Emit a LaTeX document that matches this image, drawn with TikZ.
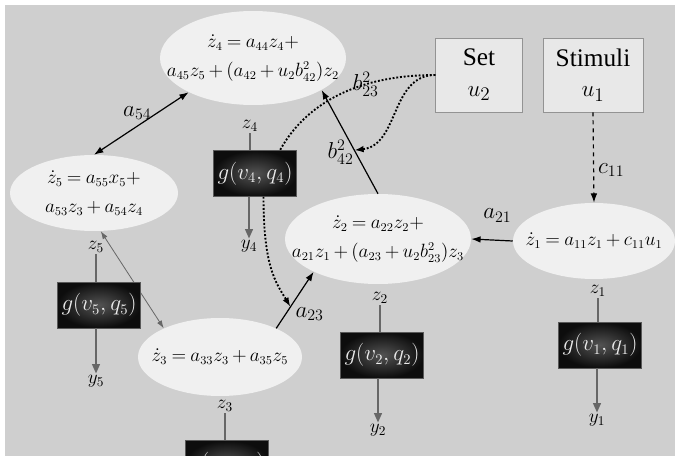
\documentclass[tikz,border=0pt]{standalone}
\usepackage{fontspec}
\setmainfont{Liberation Serif}
\usetikzlibrary{arrows.meta, positioning, shapes.geometric}
\definecolor{bgGray}{HTML}{CFCFCF}
\definecolor{eFill}{HTML}{F0F0F0}
\definecolor{boxFill}{HTML}{E8E8E8}
\definecolor{lnGray}{HTML}{676767}
\medmuskip=3mu plus 2mu minus 3mu
\thickmuskip=4mu plus 3mu

\begin{document}
\begin{tikzpicture}[x=0.75pt, y=-0.75pt,
    eq/.style={ellipse, fill=eFill, inner sep=0pt},
    eqtext/.style={align=center, inner sep=0pt, font=\fontsize{13.5}{22}\selectfont},
    inbox/.style={draw=gray!85, fill=boxFill, minimum height=55.5pt, align=center,
      inner sep=0pt, font=\fontsize{19}{23}\selectfont},
    gbox/.style={draw=gray!70!black, line width=0.6pt, fill=black,
      path picture={\shade[inner color=gray!65!black, outer color=black!95]
        (path picture bounding box.south west) rectangle (path picture bounding box.north east);},
      minimum width=62pt, minimum height=34.5pt, text=white!85!gray,
      font=\fontsize{16}{18}\selectfont},
    var/.style={inner sep=1pt, font=\fontsize{14}{16}\selectfont},
    lbl/.style={inner sep=1pt, font=\fontsize{18}{20}\selectfont},
    link/.style={line width=0.9pt, -{Latex[length=7pt, width=5pt]}},
    gvert/.style={lnGray, line width=0.9pt},
    garrow/.style={gvert, -{Triangle[length=7pt, width=6pt]}},
    dots/.style={line width=1.4pt, dash pattern=on 1.4pt off 1.4pt}]
  \useasboundingbox (0,0) rectangle (675,456);
  \clip (0,0) rectangle (675,456);
  \fill[white] (0,0) rectangle (675,456);
  \fill[bgGray] (5,5) rectangle (675,456);

  % state equations
  \node[eq, minimum width=139.5pt, minimum height=70.5pt,
    label={[eqtext]center:{$\dot z_4 = a_{44}z_4 +$\\$a_{45}z_5+(a_{42}+u_2b^2_{42})z_2$}}]
    (e4) at (253,58) {};
  \node[eq, minimum width=126pt, minimum height=57pt,
    label={[eqtext]center:{$\dot z_5 = a_{55}x_5 +$\\$a_{53}z_3+a_{54}z_4$}}]
    (e5) at (94,193) {};
  \node[eq, minimum width=139.5pt, minimum height=67.5pt,
    label={[eqtext]center:{$\dot z_2 = a_{22}z_2 +$\\$a_{21}z_1+(a_{23}+u_2b^2_{23})z_3$}}]
    (e2) at (378,239) {};
  \node[eq, minimum width=121.5pt, minimum height=57pt,
    label={[eqtext]center:{$\dot z_1 = a_{11}z_1+c_{11}u_1$}}]
    (e1) at (594,241) {};
  \node[eq, minimum width=123pt, minimum height=58.5pt,
    label={[eqtext]center:{$\dot z_3 = a_{33}z_3+a_{35}z_5$}}]
    (e3) at (220,357) {};

  % inputs
  \node[inbox, minimum width=65pt] (set) at (479,75) {Set\\$u_2$};
  \node[inbox, minimum width=75pt] (stim) at (593,75) {Stimuli\\$u_1$};

  \draw[lnGray, line width=0.6pt, {Latex[length=6pt, width=4pt]}-{Latex[length=6pt, width=4pt]}]
    (e5.280) -- (e3.153);

  % outputs
  \node[gbox] (g4) at (255,173.4) {$g(v_4,q_4)$};
  \node[gbox] (g5) at (99,305) {$g(v_5,q_5)$};
  \node[gbox] (g2) at (382,355) {$g(v_2,q_2)$};
  \node[gbox] (g1) at (600,345) {$g(v_1,q_1)$};
  \node[gbox] (g3) at (227,463.4) {$g(v_3,q_3)$};

  \node[var] (z4) at (250,126) {$z_4$};
  \node[var] (y4) at (249,246) {$y_4$};
  \node[var] (z5) at (96,247) {$z_5$};
  \node[var] (y5) at (96,381) {$y_5$};
  \node[var] (z2) at (380,298) {$z_2$};
  \node[var] (y2) at (378,430) {$y_2$};
  \node[var] (z1) at (598,291) {$z_1$};
  \node[var] (y1) at (597,420) {$y_1$};
  \node[var] (z3) at (225,406) {$z_3$};

  \foreach \k in {4,5,2,1,3}
    \draw[gvert] (z\k.south) -- (z\k.south |- g\k.north);
  \foreach \k in {4,5,2,1}
    \draw[garrow] (g\k.south -| y\k.north) -- (y\k.north);

  % couplings
  \draw[link, {Latex[length=7pt, width=5pt]}-{Latex[length=7pt, width=5pt]}]
    (e5.north) -- (e4.208) node[lbl, midway, xshift=-3pt, yshift=8pt] {$a_{54}$};
  \draw[link] (e3.27) -- (e2.207) coordinate[pos=.38] (a23m)
    node[lbl, pos=.25, right=6pt] {$a_{23}$};
  \draw[link] (e1.west) -- (e2.east) node[lbl, midway, above=12pt, xshift=4pt] {$a_{21}$};
  \draw[link, dashed] (stim.south) -- (e1.north) node[lbl, pos=.64, right=2pt] {$c_{11}$};
  \draw[link] (e2.north) -- (e4.335) coordinate[pos=.42] (b42m)
    node[lbl, pos=.4, left=0pt] {$b^2_{42}$};

  \draw[dots] (set.west) .. controls +(-80,0) and +(25,-45) .. (g4.43)
    node[lbl, pos=.33] {$b^2_{23}$};
  \draw[dots, -{Latex[length=7pt, width=5pt]}] (set.west) .. controls +(-45,0) and +(45,-5) .. (b42m);
  \draw[dots, -{Latex[length=7pt, width=5pt]}] (g4.290) .. controls +(0,70) and +(-15,-25) .. (a23m);
\end{tikzpicture}
\end{document}
